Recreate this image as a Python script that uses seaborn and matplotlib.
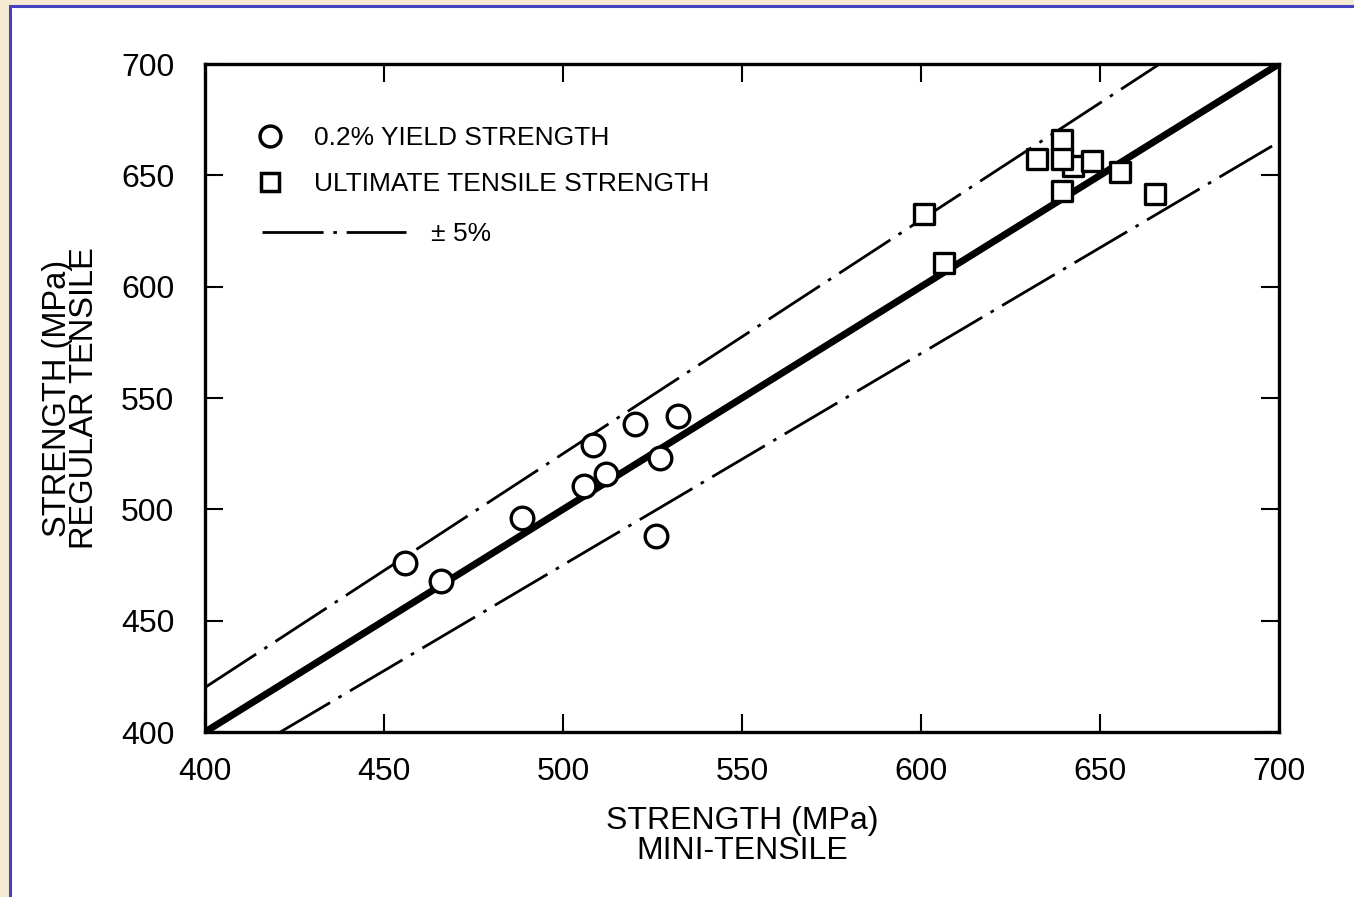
import matplotlib
matplotlib.use("Agg")
import matplotlib.pyplot as plt
from matplotlib.lines import Line2D
from matplotlib.patches import Rectangle
import seaborn as sns
import pandas as pd

# ---- data ----
yield_mini = [456, 466, 488.5, 506, 508.5, 512, 520, 526, 527, 532]
yield_regular = [476, 468, 496, 510.5, 529, 516, 538.5, 488, 523, 542]

uts_mini = [600.8, 606.3, 632.5, 639.3, 642.5, 639.3, 647.8, 639.3, 655.5, 665.3]
uts_regular = [632.5, 610.5, 657.5, 666, 654, 657.5, 656.5, 643, 651.5, 641.5]

line_x = [400, 700]
equal_y = [400, 700]
upper_y = [420, 735]   # +5 %
lower_y = [380, 665]   # -5 %

ticks = [400, 450, 500, 550, 600, 650, 700]
tick_labels = ["400", "450", "500", "550", "600", "650", "700"]

legend_labels = ["0.2% YIELD STRENGTH", "ULTIMATE TENSILE STRENGTH", "\u00b1 5%"]
x_label = "STRENGTH (MPa)\nMINI-TENSILE"
y_label = "STRENGTH (MPa)\nREGULAR TENSILE"

df_yield = pd.DataFrame({"mini": yield_mini, "regular": yield_regular})
df_uts = pd.DataFrame({"mini": uts_mini, "regular": uts_regular})

# ---- style ----
sns.set_style("ticks")
plt.rcParams["font.family"] = ["Liberation Sans", "DejaVu Sans"]
plt.rcParams["text.color"] = "black"
plt.rcParams["axes.labelcolor"] = "black"
plt.rcParams["xtick.color"] = "black"
plt.rcParams["ytick.color"] = "black"

W, H = 1354, 897
fig = plt.figure(figsize=(W / 100, H / 100), dpi=100)
fig.patch.set_facecolor("#F6EAD2")

# white panel with blue border (top / left visible)
panel = Rectangle((10 / W, -0.02), 1.05, (H - 6) / H + 0.02,
                  transform=fig.transFigure, facecolor="white",
                  edgecolor="#4343C2", linewidth=2.2, zorder=0)
fig.add_artist(panel)

ax_l, ax_r, ax_b, ax_t = 205, 1279, 732, 64
ax = fig.add_axes([ax_l / W, (H - ax_b) / H, (ax_r - ax_l) / W, (ax_b - ax_t) / H])
ax.set_facecolor("white")
ax.patch.set_alpha(0)

dash = (0, (22, 3.5, 1.3, 3.5))
ax.plot(line_x, equal_y, color="black", lw=5, solid_capstyle="butt", zorder=2)
ax.plot(line_x, upper_y, color="black", lw=2, linestyle=dash, zorder=2)
ax.plot(line_x, lower_y, color="black", lw=2, linestyle=dash, zorder=2)

sns.scatterplot(data=df_yield, x="mini", y="regular", marker="o", s=265,
                color="white", edgecolor="black", linewidth=2.4, zorder=3, ax=ax)
sns.scatterplot(data=df_uts, x="mini", y="regular", marker="s", s=205,
                color="white", edgecolor="black", linewidth=2.4, zorder=3, ax=ax)

ax.set_xlim(400, 700)
ax.set_ylim(400, 700)
ax.set_xticks(ticks)
ax.set_xticklabels(tick_labels)
ax.set_yticks(ticks)
ax.set_yticklabels(tick_labels)
ax.tick_params(direction="in", length=13, width=1.5, top=True, right=True,
               labelsize=23, colors="black")
ax.tick_params(axis="x", pad=18)
ax.tick_params(axis="y", pad=22)
for sp in ax.spines.values():
    sp.set_linewidth(2.4)
    sp.set_color("black")
    sp.set_visible(True)

ax.set_xlabel(x_label, fontsize=23, linespacing=1.0, labelpad=14)
ax.set_ylabel(y_label, fontsize=23.5, linespacing=0.85, labelpad=15)

# ---- legends ----
h_circle = Line2D([], [], marker="o", linestyle="none", markersize=15,
                  markerfacecolor="white", markeredgecolor="black", markeredgewidth=2.5)
h_square = Line2D([], [], marker="s", linestyle="none", markersize=13.5,
                  markerfacecolor="white", markeredgecolor="black", markeredgewidth=2.5)
leg1 = ax.legend([h_circle, h_square], legend_labels[:2], loc="upper left",
                 bbox_to_anchor=((256 - ax_l) / (ax_r - ax_l), (ax_b - 126) / (ax_b - ax_t)),
                 frameon=False, fontsize=19, handlelength=1.05, handletextpad=1.15,
                 labelspacing=0.85, borderpad=0, borderaxespad=0)
ax.add_artist(leg1)
h_line = Line2D([], [], color="black", lw=2, linestyle=dash)
ax.legend([h_line], legend_labels[2:], loc="upper left",
          bbox_to_anchor=((262 - ax_l) / (ax_r - ax_l), (ax_b - 222) / (ax_b - ax_t)),
          frameon=False, fontsize=19, handlelength=5.45, handletextpad=0.95,
          borderpad=0, borderaxespad=0)

fig.savefig("out.png", dpi=100, facecolor=fig.get_facecolor())
